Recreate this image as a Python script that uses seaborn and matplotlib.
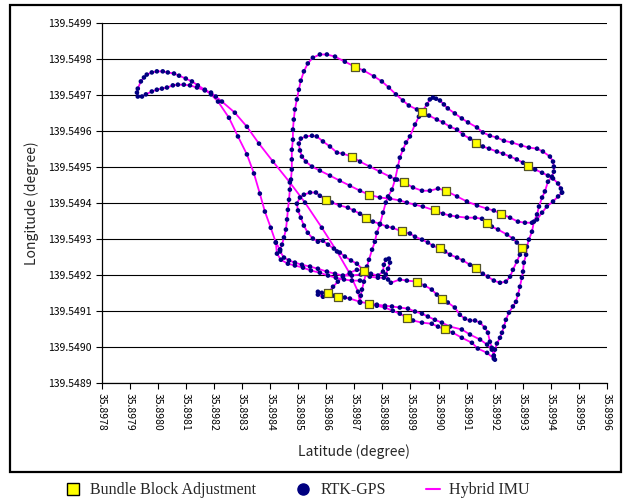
import matplotlib.pyplot as plt
import numpy as np
import pandas as pd
import seaborn as sns
from matplotlib.lines import Line2D
from matplotlib.patches import Rectangle

LAT0 = 35.8978   # degrees, left edge of the axis
LON0 = 139.5489  # degrees, bottom edge of the axis

# flight track pieces, offsets in micro-degrees from (LAT0, LON0)
loop_lat = [920, 913, 884, 838, 784, 724, 670, 610, 560, 517, 474, 428,
            406, 389, 367, 339, 314, 292, 271, 253, 232, 214, 196, 178, 157, 143, 128, 125, 128, 139,
            150, 160, 178, 196, 217, 235, 257, 275, 299, 321, 342, 367, 389,
            414, 453, 485, 517, 542, 563, 581, 602, 620, 635]
loop_lon = [223, 253, 303, 365, 431, 501, 557, 615, 665, 712, 751, 782,
            796, 807, 813, 821, 827, 829, 829, 827, 821, 818, 815, 810, 802, 796, 796, 807, 818, 838,
            849, 857, 863, 866, 866, 863, 860, 854, 846, 838, 827, 815, 802,
            782, 737, 685, 635, 582, 526, 476, 431, 390, 370]

climb_a_lat = [635, 642, 649, 656, 660, 663, 667, 670, 674, 677, 677, 677, 681, 681, 684, 688, 695, 702, 709, 720,
               734, 752, 777, 802, 831, 866, 902, 934, 970, 998, 1023, 1048, 1073, 1094, 1123, 1141, 1166, 1194,
               1216, 1241, 1266, 1287, 1312, 1333, 1358, 1380, 1408, 1430, 1455, 1479, 1501, 1519, 1544, 1569,
               1590, 1608, 1626, 1636, 1640]
climb_a_lon = [370, 384, 404, 426, 454, 481, 509, 537, 565, 593, 621, 648, 676, 704, 732, 760, 788, 815, 840, 866,
               888, 904, 913, 913, 907, 893, 879, 868, 852, 838, 821, 802, 785, 771, 760, 754, 743, 732, 724, 712,
               704, 690, 679, 668, 657, 651, 643, 637, 629, 621, 612, 604, 593, 584, 576, 568, 554, 540, 529]

north_lat = [1640, 1626, 1608, 1586, 1569, 1551, 1533, 1508, 1483, 1455, 1422, 1397, 1373, 1337, 1301, 1266, 1226,
             1198, 1169, 1141, 1109, 1077, 1052, 1027, 991, 955, 920, 891, 859, 838, 813, 788, 766, 749, 727, 709,
             702, 706, 713, 727, 749, 777, 813, 848, 884, 920, 952, 991, 1027, 1062, 1087, 1116, 1144, 1187, 1216,
             1241, 1266, 1301, 1330, 1355, 1373, 1390, 1412, 1444, 1465, 1479, 1497]
north_lon = [529, 518, 504, 490, 473, 454, 445, 445, 448, 459, 470, 479, 484, 493, 504, 518, 534, 540, 534, 534,
             543, 557, 565, 573, 587, 601, 615, 629, 637, 640, 657, 671, 685, 687, 685, 679, 665, 646, 629, 615,
             601, 590, 576, 562, 548, 534, 523, 515, 512, 507, 501, 495, 490, 479, 470, 465, 462, 459, 459, 456,
             445, 434, 426, 412, 401, 390, 376]

south_lat = [1497, 1490, 1479, 1465, 1455, 1440, 1419, 1397, 1376, 1358, 1333, 1312, 1287, 1266, 1241, 1223, 1205,
             1180, 1162, 1141, 1116, 1098, 1070, 1037, 1016, 991, 966, 941, 920, 898, 877, 848, 820, 799, 777, 763,
             742, 720, 706, 695, 699, 709, 720, 734, 752, 770, 788, 806, 827, 848, 866, 888, 909, 934]
south_lon = [376, 356, 337, 314, 295, 281, 278, 284, 295, 303, 317, 328, 340, 348, 356, 365, 373, 381, 390, 398,
             406, 415, 420, 431, 434, 442, 448, 456, 470, 479, 487, 493, 501, 507, 520, 529, 529, 523, 515, 498,
             479, 459, 437, 417, 401, 392, 395, 384, 373, 362, 351, 340, 331, 312]

east_lat = [934, 959, 984, 1002, 1005, 1012, 1023, 1027, 1020, 1012, 1020, 1030, 1062, 1087, 1123, 1151, 1176, 1194,
            1212, 1233, 1258, 1276, 1294, 1312, 1330, 1348, 1365, 1376, 1383, 1390, 1397]
east_lon = [312, 303, 298, 309, 328, 342, 345, 334, 317, 301, 287, 278, 287, 284, 281, 270, 259, 245, 234, 223,
            209, 189, 178, 173, 173, 167, 153, 139, 114, 97, 75]

low1_lat = [635, 649, 667, 688, 713, 742, 770, 802, 831, 859, 891, 923, 955, 984, 1005]
low1_lon = [365, 348, 340, 334, 328, 323, 317, 309, 303, 298, 298, 301, 295, 292, 292]

low2_lat = [620, 624, 638, 663, 688, 717, 745, 777, 806, 834, 863, 891, 920]
low2_lon = [390, 359, 342, 331, 326, 320, 312, 306, 298, 292, 287, 284, 284]

climb_b_lat = [920, 923, 927, 934, 941, 945, 952, 963, 973, 980, 991, 1002, 1012, 1020, 1034, 1045, 1055, 1062,
               1073, 1084, 1098, 1116, 1130, 1141, 1159, 1169, 1180, 1191, 1205, 1219, 1233, 1258, 1283, 1305,
               1337, 1358, 1383, 1408, 1433, 1462, 1494, 1522, 1551, 1572, 1597, 1608, 1611, 1611, 1604, 1590,
               1579, 1569, 1558, 1551, 1540, 1533, 1522, 1515, 1512, 1504, 1501, 1497, 1490, 1483, 1476, 1465,
               1451, 1440, 1433, 1426, 1419, 1408, 1401, 1397, 1401]
climb_b_lon = [223, 242, 259, 281, 303, 323, 342, 370, 392, 417, 440, 473, 501, 518, 537, 565, 601, 626, 648, 668,
               685, 718, 740, 754, 774, 788, 793, 790, 785, 774, 763, 749, 735, 724, 710, 696, 687, 682, 673, 668,
               660, 654, 651, 643, 629, 615, 601, 587, 573, 559, 532, 515, 490, 468, 448, 420, 398, 378, 356, 334,
               309, 292, 267, 245, 225, 212, 195, 175, 156, 139, 125, 109, 92, 75, 64]

south_leg_lat = [1397, 1373, 1340, 1319, 1283, 1251, 1223, 1198, 1176, 1141, 1109, 1087, 1062, 1037, 1009, 980,
                 952, 920, 884, 866, 841, 824, 806, 784, 770, 770, 788]
south_leg_lon = [67, 83, 95, 111, 125, 139, 148, 156, 164, 167, 173, 181, 192, 200, 209, 214, 220, 225, 234, 237,
                 239, 242, 250, 250, 253, 245, 239]

mid_leg_lat = [1390, 1373, 1348, 1312, 1283, 1241, 1212, 1187, 1162, 1141, 1116, 1091, 1062, 1034, 1009, 980, 952]
mid_leg_lon = [92, 106, 120, 134, 148, 156, 167, 175, 184, 192, 198, 206, 209, 212, 214, 217, 220]

cross_lat = [806, 824, 841, 859, 884, 909, 934]
cross_lon = [250, 267, 281, 295, 306, 314, 312]

# bundle block adjustment camera positions
bba_lat = [902, 1141, 1333, 1519, 891, 1077, 1226, 1422, 799, 941, 1070, 1205, 1333, 952, 1187, 1373, 1497, 934,
           1123, 1212, 806, 841, 952, 1087, 1223]
bba_lon = [879, 754, 668, 604, 629, 557, 534, 470, 507, 459, 423, 376, 320, 523, 479, 445, 376, 312, 281, 234,
           250, 239, 220, 181, 148]

segments = {
    "loop": (loop_lat, loop_lon),
    "climb_a": (climb_a_lat, climb_a_lon),
    "north": (north_lat, north_lon),
    "south": (south_lat, south_lon),
    "east": (east_lat, east_lon),
    "low1": (low1_lat, low1_lon),
    "low2": (low2_lat, low2_lon),
    "climb_b": (climb_b_lat, climb_b_lon),
    "south_leg": (south_leg_lat, south_leg_lon),
    "mid_leg": (mid_leg_lat, mid_leg_lon),
    "cross": (cross_lat, cross_lon),
}

rows = []
for name, (la, lo) in segments.items():
    for a, b in zip(la, lo):
        rows.append((name, LAT0 + a * 1e-6, LON0 + b * 1e-6))
track = pd.DataFrame(rows, columns=["seg", "lat", "lon"])
bba = pd.DataFrame({"lat": LAT0 + np.array(bba_lat) * 1e-6,
                    "lon": LON0 + np.array(bba_lon) * 1e-6})

sns.set_style("white")
plt.rcParams["font.family"] = ["Noto Sans CJK JP", "DejaVu Sans"]

fig = plt.figure(figsize=(6.25, 5.04), dpi=100)
ax = fig.add_axes([0.163, 0.2407, 0.808, 0.7133])

sns.lineplot(data=track, x="lat", y="lon", units="seg", estimator=None, sort=False,
             color="#ff00ff", linewidth=1.3, ax=ax, legend=False, zorder=2)
sns.scatterplot(data=track, x="lat", y="lon", color="#000080", s=11, edgecolor="none",
                ax=ax, legend=False, zorder=3)
sns.scatterplot(data=bba, x="lat", y="lon", marker="s", color="#ffff00", edgecolor="#55552a",
                linewidth=0.9, s=38, ax=ax, legend=False, zorder=4)

xt = np.round(np.linspace(35.8978, 35.8996, 19), 4)
yt = np.round(np.linspace(139.5489, 139.5499, 11), 4)
ax.set_xlim(xt[0], xt[-1])
ax.set_ylim(yt[0], yt[-1])
ax.set_xticks(xt)
ax.set_xticklabels([f"{v:.4f}" for v in xt], rotation=-90)
ax.set_yticks(yt)
ax.set_yticklabels([f"{v:.4f}" for v in yt])
ax.tick_params(axis="both", direction="out", length=4, width=0.8, color="black",
               labelsize=7.5, labelcolor="black", left=True, bottom=True)
ax.yaxis.grid(True, color="black", linewidth=0.8)
ax.xaxis.grid(False)
ax.set_axisbelow(True)
for s in ["top", "right"]:
    ax.spines[s].set_visible(False)
for s in ["left", "bottom"]:
    ax.spines[s].set_color("black")
    ax.spines[s].set_linewidth(0.9)

ax.set_xlabel("Latitude (degree)", fontsize=10)
ax.set_ylabel("Longitude (degree)", fontsize=10)
ax.xaxis.set_label_coords(0.5, -0.17)
ax.yaxis.set_label_coords(-0.125, 0.5)

fig.patches.append(Rectangle((0.016, 0.0635), 0.978, 0.927, transform=fig.transFigure,
                             fill=False, edgecolor="black", linewidth=1.6))

handles = [
    Line2D([], [], marker="s", linestyle="none", markerfacecolor="#ffff00",
           markeredgecolor="black", markersize=9),
    Line2D([], [], marker="o", linestyle="none", markerfacecolor="#000080",
           markeredgecolor="#000080", markersize=8),
    Line2D([], [], color="#ff00ff", linewidth=1.5),
]
fig.legend(handles, ["Bundle Block Adjustment", "RTK-GPS", "Hybrid IMU"],
           loc="center", bbox_to_anchor=(0.477, 0.027), ncol=3, frameon=False,
           prop={"family": "Liberation Serif", "size": 11.5},
           handlelength=0.9, handletextpad=0.6, columnspacing=2.5)

fig.savefig("out.png", dpi=100)
